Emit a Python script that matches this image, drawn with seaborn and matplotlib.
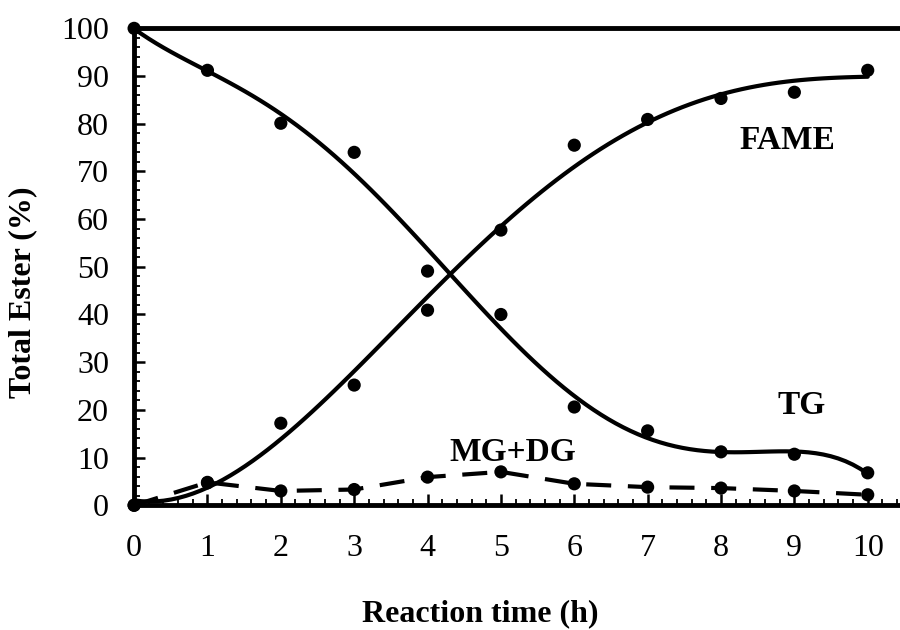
import numpy as np
import pandas as pd
import matplotlib
matplotlib.use("Agg")
import matplotlib.pyplot as plt
from matplotlib.ticker import MultipleLocator
import seaborn as sns

# datos
tiempo = [0, 1, 2, 3, 4, 5, 6, 7, 8, 9, 10]
tg = [100, 91.2, 80.1, 74.0, 49.1, 40.0, 20.6, 15.6, 11.2, 10.7, 6.8]
fame = [0, 4.7, 17.2, 25.2, 40.9, 57.7, 75.5, 80.9, 85.3, 86.6, 91.2]
mgdg = [0, 4.8, 3.0, 3.3, 5.9, 7.0, 4.5, 3.8, 3.6, 3.0, 2.2]

df = pd.DataFrame({"t": tiempo, "TG": tg, "FAME": fame, "MG+DG": mgdg})

sns.set_style("ticks", {"text.color": "black", "axes.labelcolor": "black",
                        "xtick.color": "black", "ytick.color": "black",
                        "axes.edgecolor": "black"})
plt.rcParams["font.family"] = ["Liberation Serif", "DejaVu Serif"]

fig = plt.figure(figsize=(9, 6.3), dpi=100)
ax = fig.add_axes([0.149, 0.198, 0.851, 0.757])

# curvas ajustadas (polinomio)
sns.regplot(data=df, x="t", y="TG", order=5, ci=None, scatter=False,
            color="black", line_kws={"lw": 3}, ax=ax)
sns.regplot(data=df, x="t", y="FAME", order=4, ci=None, scatter=False,
            color="black", line_kws={"lw": 3}, ax=ax)
sns.lineplot(data=df, x="t", y="MG+DG", color="black", lw=3,
             dashes=False, ax=ax, linestyle=(0, (6, 4)))

for col in ["TG", "FAME", "MG+DG"]:
    sns.scatterplot(data=df, x="t", y=col, color="black", s=90,
                    edgecolor="none", ax=ax, zorder=5, clip_on=False)

ax.set_xlim(0, 10.44)
ax.set_ylim(0, 100)
ax.set_xticks(range(0, 11))
ax.set_yticks(range(0, 101, 10))
ax.xaxis.set_minor_locator(MultipleLocator(0.2))
ax.yaxis.set_minor_locator(MultipleLocator(2))
ax.tick_params(which="major", direction="in", length=8, width=1.8,
               labelsize=23)
ax.tick_params(which="minor", direction="in", length=4, width=1.3)
ax.tick_params(axis="x", pad=21)
ax.tick_params(axis="y", pad=18)

ax.spines["right"].set_visible(False)
for s in ["top", "left", "bottom"]:
    ax.spines[s].set_linewidth(3.5)

ax.set_xlabel("Reaction time (h)", fontsize=23, fontweight="bold")
ax.set_ylabel("Total Ester (%)", fontsize=23, fontweight="bold")
ax.xaxis.set_label_coords(0.452, -0.197)
ax.yaxis.set_label_coords(-0.127, 0.447)

ax.text(8.9, 76.5, "FAME", fontsize=24, fontweight="bold", ha="center", va="center")
ax.text(9.1, 21, "TG", fontsize=24, fontweight="bold", ha="center", va="center")
ax.text(5.16, 11.1, "MG+DG", fontsize=24, fontweight="bold", ha="center", va="center")

fig.savefig("out.png", dpi=100)
